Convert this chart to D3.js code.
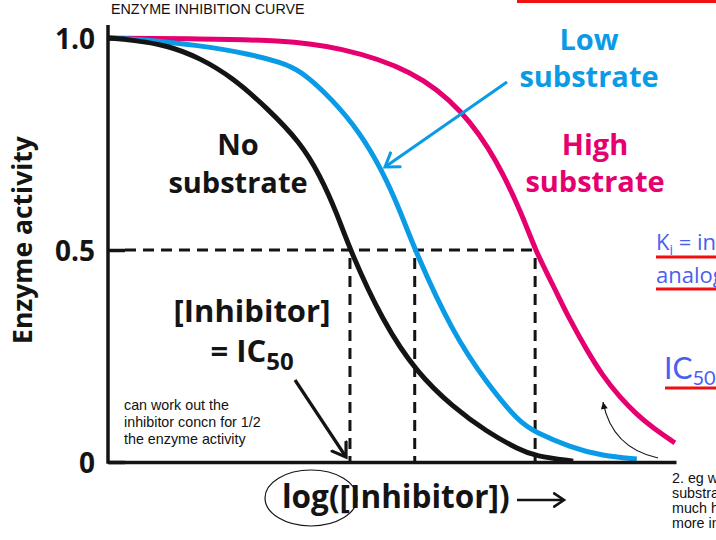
<!DOCTYPE html>
<html>
<head>
<meta charset="utf-8">
<script src="https://cdn.jsdelivr.net/npm/d3@7"></script>
<style>
  body { margin: 0; background: #fff; }
  svg { display: block; }
  .big { font-family: "Open Sans", sans-serif; font-weight: 700; }
  .note { font-family: "Liberation Sans", Arial, sans-serif; font-size: 14.3px; fill: #111; }
  .side { font-family: "Open Sans", sans-serif; fill: #4a5ff0; }
</style>
</head>
<body>
<svg id="chart" width="716" height="540"></svg>
<script>
// log([Inhibitor]) in arbitrary units, activity 0-1
const blackX = [0, 0.44, 1.04, 1.62, 2.20, 2.80, 3.38, 3.73, 4.03, 4.26, 4.84, 5.44, 6.07, 6.67, 7.25, 7.52, 8.19];
const blackY = [1, 0.995, 0.983, 0.953, 0.906, 0.835, 0.755, 0.677, 0.587, 0.5, 0.33, 0.210, 0.130, 0.071, 0.028, 0.014, 0.002];

const blueX = [0, 0.44, 1.62, 2.50, 3.03, 3.38, 3.96, 4.44, 4.82, 5.14, 5.40, 6.07, 6.67, 7.25, 7.52, 8.13, 8.71, 9.31];
const blueY = [1, 0.998, 0.983, 0.962, 0.943, 0.925, 0.854, 0.776, 0.689, 0.594, 0.5, 0.304, 0.186, 0.092, 0.071, 0.035, 0.014, 0.007];

const pinkX = [0, 1.62, 3.03, 4.08, 5.37, 6.25, 6.85, 7.31, 7.52, 7.85, 8.13, 8.43, 8.71, 9.01, 9.30, 9.60, 9.98];
const pinkY = [1, 0.998, 0.995, 0.979, 0.925, 0.830, 0.712, 0.578, 0.5, 0.413, 0.335, 0.264, 0.203, 0.153, 0.113, 0.080, 0.045];

const ic50 = [4.26, 5.40, 7.52];
const yTicks = [0, 0.5, 1];
const yTickLabels = ["0", "0.5", "1.0"];

const BLACK = "#141414", BLUE = "#0a9be6", PINK = "#e6006f", RED = "#f01010";

const svg = d3.select("#chart");
svg.append("rect").attr("width", 716).attr("height", 540).attr("fill", "#fff");

const x = d3.scaleLinear().domain([0, 10]).range([108, 676]);
const y = d3.scaleLinear().domain([0, 1]).range([462, 38]);

const defs = svg.append("defs");
function chevron(id, color, size, sw) {
  defs.append("marker")
    .attr("id", id)
    .attr("viewBox", `${-size} ${-size} ${size * 2} ${size * 2}`)
    .attr("markerWidth", size * 2).attr("markerHeight", size * 2)
    .attr("markerUnits", "userSpaceOnUse")
    .attr("orient", "auto")
    .append("path")
    .attr("d", `M${-size * 0.9},${-size * 0.6} L0,0 L${-size * 0.9},${size * 0.6}`)
    .attr("fill", "none").attr("stroke", color).attr("stroke-width", sw)
    .attr("stroke-linecap", "round").attr("stroke-linejoin", "miter");
}
chevron("arrBlue", BLUE, 14, 3);
chevron("arrBlack", BLACK, 14, 3.2);
chevron("arrX", BLACK, 11, 2.6);
defs.append("marker")
  .attr("id", "arrThin")
  .attr("viewBox", "-8 -5 10 10")
  .attr("markerWidth", 10).attr("markerHeight", 10)
  .attr("markerUnits", "userSpaceOnUse")
  .attr("orient", "auto")
  .append("path").attr("d", "M-7,-3.5 L0,0 L-7,3.5 Z").attr("fill", BLACK);

// title
svg.append("text").attr("class", "note").attr("x", 111).attr("y", 14)
  .style("font-size", "14.3px").text("ENZYME INHIBITION CURVE");

// red underline marks
const redMarks = [[517, 716, 1.5], [656, 716, 257], [656, 716, 289], [665, 716, 388]];
svg.selectAll("line.red").data(redMarks).join("line").attr("class", "red")
  .attr("x1", d => d[0]).attr("x2", d => d[1]).attr("y1", d => d[2]).attr("y2", d => d[2])
  .attr("stroke", RED).attr("stroke-width", 3);

// dashed guides at half activity
const dash = svg.append("g").attr("stroke", BLACK).attr("stroke-width", 3).attr("stroke-dasharray", "11,7").attr("fill", "none");
dash.append("line").attr("x1", x(0) + 17).attr("x2", x(d3.max(ic50))).attr("y1", y(0.5)).attr("y2", y(0.5));
dash.selectAll("line.v").data(ic50).join("line").attr("class", "v")
  .attr("x1", d => x(d)).attr("x2", d => x(d)).attr("y1", y(0.5) + 8).attr("y2", y(0));

// curves
const line = d3.line().x(d => x(d[0])).y(d => y(d[1])).curve(d3.curveBasis);
const series = [
  { xs: pinkX, ys: pinkY, color: PINK },
  { xs: blueX, ys: blueY, color: BLUE },
  { xs: blackX, ys: blackY, color: BLACK }
];
svg.selectAll("path.curve").data(series).join("path").attr("class", "curve")
  .attr("d", d => line(d3.zip(d.xs, d.ys)))
  .attr("fill", "none").attr("stroke", d => d.color).attr("stroke-width", 5)
  .attr("stroke-linecap", "butt");

// axes
const yAxis = svg.append("g").attr("transform", `translate(${x(0)},0)`)
  .call(d3.axisLeft(y).tickValues(yTicks).tickSize(-17).tickPadding(13)
    .tickFormat((d, i) => yTickLabels[i]));
yAxis.select(".domain").remove();
yAxis.selectAll(".tick line").attr("stroke", BLACK).attr("stroke-width", 3.5);
yAxis.selectAll(".tick text").attr("class", "big").attr("fill", BLACK)
  .style("font-size", "28px").attr("dy", "0.36em");
yAxis.append("line").attr("x1", 0).attr("x2", 0).attr("y1", 25).attr("y2", y(0) + 1.75)
  .attr("stroke", BLACK).attr("stroke-width", 3.5);

const xAxis = svg.append("g").attr("transform", `translate(0,${y(0)})`)
  .call(d3.axisBottom(x).tickValues([]).tickSizeOuter(0));
xAxis.select(".domain").attr("stroke", BLACK).attr("stroke-width", 3.5);

// axis titles
svg.append("text").attr("class", "big").attr("transform", "translate(32,240) rotate(-90)")
  .attr("text-anchor", "middle").style("font-size", "26.5px").attr("fill", BLACK).text("Enzyme activity");
svg.append("text").attr("class", "big").attr("x", 282).attr("y", 508)
  .style("font-size", "31.5px").attr("fill", BLACK).text("log([Inhibitor])");
svg.append("line").attr("x1", 517).attr("x2", 564).attr("y1", 500).attr("y2", 500)
  .attr("stroke", BLACK).attr("stroke-width", 2.6).attr("marker-end", "url(#arrX)");
svg.append("ellipse").attr("cx", 311).attr("cy", 498).attr("rx", 46).attr("ry", 28)
  .attr("fill", "none").attr("stroke", BLACK).attr("stroke-width", 1.2);

// curve labels
function label(lines, cx, color, size) {
  lines.forEach(([txt, by]) => {
    svg.append("text").attr("class", "big").attr("x", cx).attr("y", by)
      .attr("text-anchor", "middle").style("font-size", size + "px").attr("fill", color).text(txt);
  });
}
label([["Low", 50], ["substrate", 87]], 589, BLUE, 29);
label([["High", 155], ["substrate", 192]], 595, PINK, 29);
label([["No", 155], ["substrate", 193]], 238, BLACK, 29);

svg.append("line").attr("x1", 507).attr("y1", 82).attr("x2", 385).attr("y2", 167)
  .attr("stroke", BLUE).attr("stroke-width", 3).attr("marker-end", "url(#arrBlue)");

// IC50 label and arrow
svg.append("text").attr("class", "big").attr("x", 252).attr("y", 322)
  .attr("text-anchor", "middle").style("font-size", "31px").attr("fill", BLACK).text("[Inhibitor]");
const icT = svg.append("text").attr("class", "big").attr("x", 252).attr("y", 362)
  .attr("text-anchor", "middle").style("font-size", "31px").attr("fill", BLACK);
icT.append("tspan").text("= IC");
icT.append("tspan").attr("dy", 8).style("font-size", "24px").text("50");
svg.append("line").attr("x1", 295).attr("y1", 380).attr("x2", 346).attr("y2", 457)
  .attr("stroke", BLACK).attr("stroke-width", 3.2).attr("marker-end", "url(#arrBlack)");

// handwritten-style notes
const noteLines = ["can work out the", "inhibitor concn for 1/2", "the enzyme activity"];
svg.selectAll("text.n1").data(noteLines).join("text").attr("class", "note n1")
  .attr("x", 124).attr("y", (d, i) => 410 + i * 17).text(d => d);

const noteRight = ["2. eg w", "substra", "much h", "more in"];
svg.selectAll("text.n2").data(noteRight).join("text").attr("class", "note n2")
  .attr("x", 672).attr("y", (d, i) => 483 + i * 15).text(d => d);

svg.append("path").attr("d", "M658,458 Q612,448 603,402")
  .attr("fill", "none").attr("stroke", BLACK).attr("stroke-width", 1.2)
  .attr("marker-end", "url(#arrThin)");

// side notes
const ki = svg.append("text").attr("class", "side").attr("x", 656).attr("y", 250).style("font-size", "22px");
ki.append("tspan").text("K");
ki.append("tspan").attr("dy", 5).style("font-size", "14px").text("i");
ki.append("tspan").attr("dy", -5).text(" = in");
svg.append("text").attr("class", "side").attr("x", 656).attr("y", 283).style("font-size", "22px").text("analog");
const ic = svg.append("text").attr("class", "side").attr("x", 664).attr("y", 379)
  .style("font-family", "Lato, sans-serif").style("font-size", "30px");
ic.append("tspan").text("IC");
ic.append("tspan").attr("dy", 6).style("font-size", "20px").text("50");
</script>
</body>
</html>
